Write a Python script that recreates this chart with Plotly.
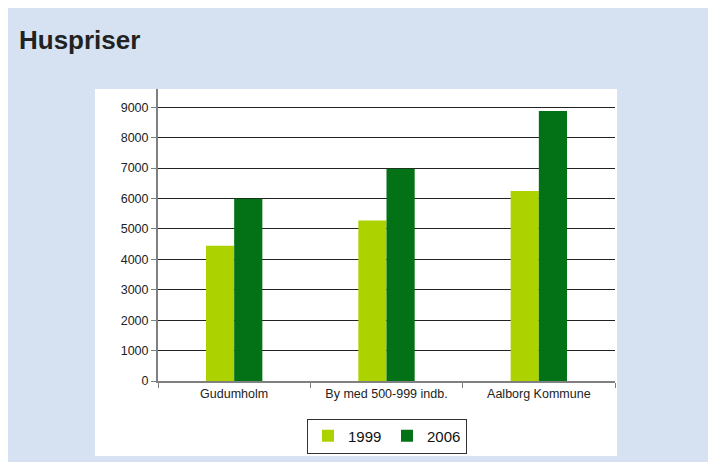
import plotly.graph_objects as go

categories = ["Gudumholm", "By med 500-999 indb.", "Aalborg Kommune"]
values_1999 = [4450, 5280, 6250]
values_2006 = [5990, 6980, 8880]
series_names = ["1999", "2006"]

# page body has an 8px margin; work in absolute window pixel coordinates
OFF = 8
W, H = 716 - OFF, 462 - OFF
L, R, T, B = 158 - OFF, 716 - 615, 89 - OFF, 462 - 381
pw = W - L - R
ph = H - T - B

def px_x(x):
    return (x - OFF - L) / pw

def px_y(y):
    return (H - B - (y - OFF)) / ph

fig = go.Figure()
fig.add_trace(go.Bar(name=series_names[0], x=categories, y=values_1999,
                     marker=dict(color="#acd300", line=dict(width=0))))
fig.add_trace(go.Bar(name=series_names[1], x=categories, y=values_2006,
                     marker=dict(color="#037216", line=dict(width=0))))

fig.add_shape(type="rect", xref="paper", yref="paper",
              x0=px_x(95), x1=px_x(617), y0=px_y(456), y1=px_y(89),
              fillcolor="white", line=dict(width=0), layer="below")

fig.update_layout(
    width=W, height=H,
    margin=dict(l=L, r=R, t=T, b=B, autoexpand=False),
    paper_bgcolor="#d6e2f2",
    plot_bgcolor="rgba(0,0,0,0)",
    barmode="group",
    bargap=0.63,
    bargroupgap=0,
    font=dict(family="Liberation Sans, Arial, sans-serif", size=12, color="#222"),
    title=dict(text="<b>Huspriser</b>", xref="container", x=(19 - OFF) / W, xanchor="left",
               yref="container", y=1 - (40 - OFF) / H, yanchor="middle",
               font=dict(size=26, color="#222", family="Liberation Sans, Arial, sans-serif")),
    legend=dict(orientation="h", x=px_x(387),
                xanchor="center", y=px_y(436), yanchor="middle",
                bordercolor="#333", borderwidth=1, bgcolor="white",
                font=dict(size=15, color="#111"),
                itemwidth=30, entrywidth=34, traceorder="normal"),
    showlegend=True,
)

fig.update_yaxes(range=[0, 9600], tickvals=list(range(0, 10000, 1000)),
                 showgrid=True, gridcolor="#222", gridwidth=1,
                 showline=True, linecolor="#808080", linewidth=2,
                 ticks="outside", ticklen=5, tickcolor="#808080",
                 zeroline=False, tickfont=dict(size=12.5, color="#222"))
fig.update_xaxes(showline=True, linecolor="#808080", linewidth=2,
                 ticks="outside", tickson="boundaries", ticklen=5, tickcolor="#808080",
                 showgrid=False, tickfont=dict(size=12.5, color="#222"))

fig.write_html("out.html")
